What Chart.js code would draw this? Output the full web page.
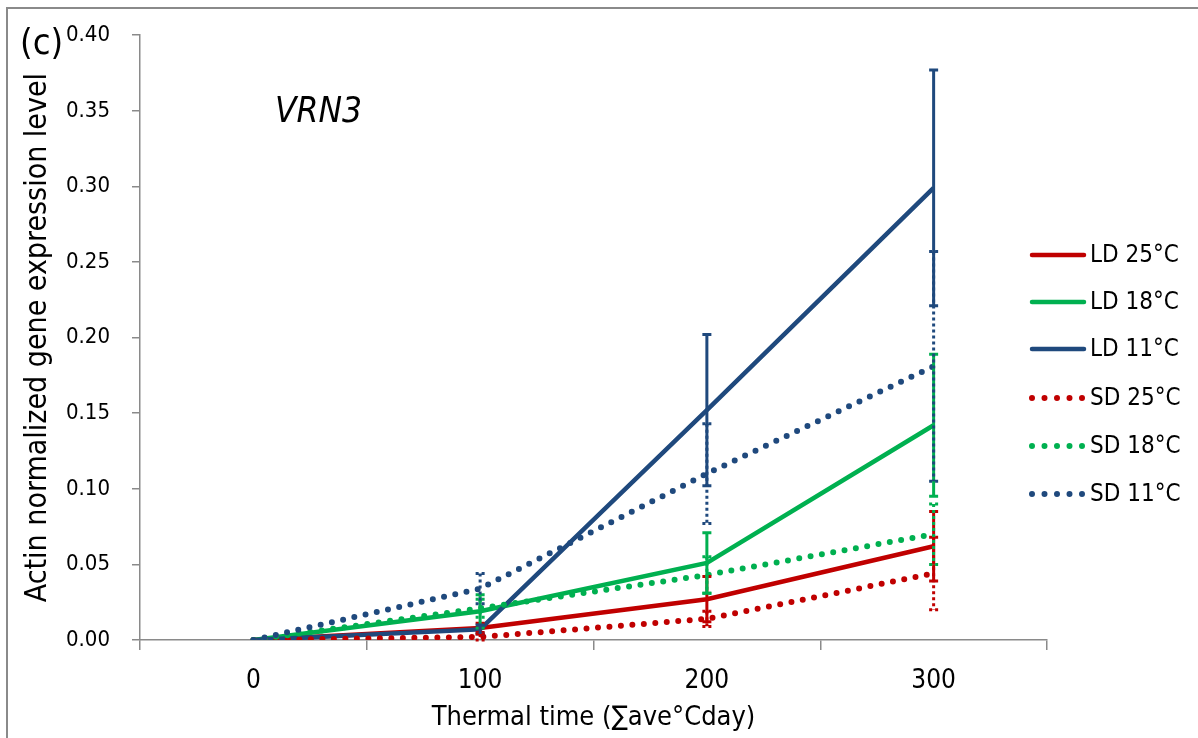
<!DOCTYPE html>
<html>
<head>
<meta charset="utf-8">
<script src="https://cdn.jsdelivr.net/npm/chart.js@4.4.0/dist/chart.umd.min.js"></script>
<style>
  html, body { margin: 0; padding: 0; background: #fff; overflow: hidden; }
  #wrap { position: relative; width: 1198px; height: 738px; }
  #frame { position: absolute; left: 6px; top: 7px; width: 1400px; height: 1000px;
           border-top: 2px solid #8a8a8a; border-left: 2px solid #8a8a8a; pointer-events: none; }
  canvas { position: absolute; left: 0; top: 0; }
</style>
</head>
<body>
<div id="wrap">
  <canvas id="chart" width="1198" height="738"></canvas>
  <div id="frame"></div>
</div>
<script>
const FONT = "'Liberation Sans Narrow', 'Arial Narrow', 'DejaVu Sans Condensed', sans-serif";

// thermal time categories
const categories = ['0', '100', '200', '300'];

// means
const ld25 = [0, 0.008, 0.027, 0.062];
const ld18 = [0, 0.019, 0.051, 0.142];
const ld11 = [0, 0.007, 0.152, 0.299];
const sd25 = [0, 0.002, 0.014, 0.044];
const sd18 = [0, 0.021, 0.043, 0.070];
const sd11 = [0, 0.034, 0.110, 0.181];

// error bar half-lengths
const ld25Err = [0, 0.003, 0.015, 0.023];
const ld18Err = [0, 0.011, 0.020, 0.047];
const ld11Err = [0, 0.003, 0.050, 0.078];
const sd25Err = [0, 0.002, 0.005, 0.024];
const sd18Err = [0, 0.006, 0.012, 0.020];
const sd11Err = [0, 0.010, 0.033, 0.076];

const seriesNames = ['LD 25°C', 'LD 18°C', 'LD 11°C', 'SD 25°C', 'SD 18°C', 'SD 11°C'];
const RED = '#c00000', GREEN = '#00b050', BLUE = '#1f497d';

function solid(i, data, err, color) {
  return {
    label: seriesNames[i], data, err, order: 6 - i,
    borderColor: color, backgroundColor: color, borderWidth: 4.5,
    pointRadius: 0, tension: 0, dotted: false,
  };
}
function dotted(i, data, err, color) {
  return {
    label: seriesNames[i], data, err, order: 6 - i,
    borderColor: color, backgroundColor: color, borderWidth: 6,
    borderDash: [0, 11.5], borderCapStyle: 'round',
    pointRadius: 0, tension: 0, dotted: true,
  };
}

// error bars, drawn from each dataset's own points and the y scale
const errorBars = {
  id: 'errorBars',
  afterDatasetsDraw(chart) {
    const { ctx, scales: { y } } = chart;
    const metas = chart.getSortedVisibleDatasetMetas().slice().reverse();
    metas.forEach(meta => {
      const ds = chart.data.datasets[meta.index];
      ctx.save();
      ctx.strokeStyle = ds.borderColor;
      ctx.lineWidth = 3;
      ctx.setLineDash(ds.dotted ? [3, 3] : []);
      meta.data.forEach((pt, i) => {
        const e = ds.err[i];
        if (!e) return;
        const top = y.getPixelForValue(ds.data[i] + e);
        const bot = y.getPixelForValue(ds.data[i] - e);
        ctx.beginPath();
        ctx.moveTo(pt.x, top); ctx.lineTo(pt.x, bot);
        ctx.moveTo(pt.x - 4.5, top); ctx.lineTo(pt.x + 4.5, top);
        ctx.moveTo(pt.x - 4.5, bot); ctx.lineTo(pt.x + 4.5, bot);
        ctx.stroke();
      });
      ctx.restore();
    });
  }
};

// legend at the right plus panel annotations
const extras = {
  id: 'extras',
  afterDraw(chart) {
    const { ctx } = chart;
    ctx.save();
    ctx.fillStyle = '#000';
    ctx.textBaseline = 'alphabetic';
    ctx.font = `36px ${FONT}`;
    ctx.fillText('(c)', 20, 54);
    ctx.font = `italic 35px ${FONT}`;
    ctx.fillText('VRN3', 275, 122);

    const ys = [255, 302, 349, 398, 446, 494];
    chart.data.datasets.forEach((ds, i) => {
      const yy = ys[i];
      ctx.strokeStyle = ds.borderColor;
      ctx.lineCap = 'round';
      if (ds.dotted) {
        ctx.lineWidth = 6;
        ctx.setLineDash([0, 12.5]);
      } else {
        ctx.lineWidth = 4.5;
        ctx.setLineDash([]);
      }
      ctx.beginPath();
      ctx.moveTo(1032, yy); ctx.lineTo(1084, yy);
      ctx.stroke();
      ctx.setLineDash([]);
      ctx.fillStyle = '#000';
      ctx.font = `24px ${FONT}`;
      ctx.textBaseline = 'middle';
      ctx.fillText(ds.label, 1090, yy + 1);
    });
    ctx.restore();
  }
};

new Chart(document.getElementById('chart'), {
  type: 'line',
  data: {
    labels: categories,
    datasets: [
      solid(0, ld25, ld25Err, RED),
      solid(1, ld18, ld18Err, GREEN),
      solid(2, ld11, ld11Err, BLUE),
      dotted(3, sd25, sd25Err, RED),
      dotted(4, sd18, sd18Err, GREEN),
      dotted(5, sd11, sd11Err, BLUE),
    ],
  },
  plugins: [errorBars, extras],
  options: {
    responsive: false,
    animation: false,
    layout: { padding: { left: 0, top: 27, right: 151, bottom: 0 } },
    plugins: { legend: { display: false }, tooltip: { enabled: false } },
    scales: {
      x: {
        type: 'category',
        offset: true,
        afterFit: s => { s.height = 98; },
        grid: { offset: true, drawOnChartArea: false, drawTicks: true, tickLength: 10, color: '#8a8a8a', lineWidth: 1.5 },
        border: { color: '#8a8a8a', width: 1.5 },
        ticks: { color: '#000', font: { family: FONT, size: 26 }, padding: 16, maxRotation: 0 },
        title: { display: true, text: 'Thermal time (∑ave°Cday)', color: '#000',
                 font: { family: FONT, size: 27 }, padding: { top: 0, bottom: 4 } },
      },
      y: {
        min: 0, max: 0.4,
        afterFit: s => { s.width = 140; },
        grid: { drawOnChartArea: false, drawTicks: true, tickLength: 8, color: '#8a8a8a', lineWidth: 1.5 },
        border: { color: '#8a8a8a', width: 1.5 },
        ticks: { stepSize: 0.05, color: '#000', font: { family: FONT, size: 22 }, padding: 22,
                 callback: v => v.toFixed(2) },
        title: { display: true, text: 'Actin normalized gene expression level', color: '#000',
                 font: { family: FONT, size: 30 }, padding: { top: 20, bottom: 0 } },
      },
    },
  },
});
</script>
</body>
</html>
